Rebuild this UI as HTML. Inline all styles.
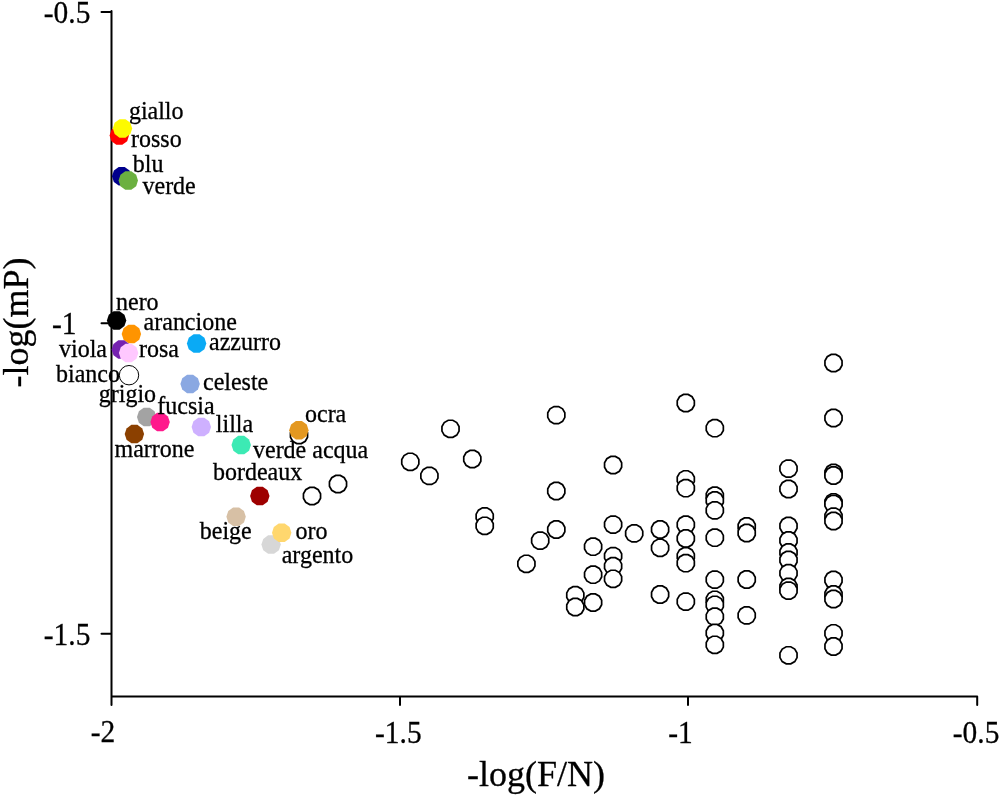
<!DOCTYPE html>
<html><head><meta charset="utf-8"><style>
html,body{margin:0;padding:0;background:#fff;}
svg{display:block;will-change:transform;}
text{font-family:"Liberation Serif",serif;fill:#000;stroke:#000;stroke-width:0.3px;}
.l{font-size:24px;}
.t{font-size:31px;}
.a{font-size:36px;}
</style></head><body>
<svg width="1000" height="796" viewBox="0 0 1000 796">
<path d="M111.5 11V697.5M111.5 696.5H977.2M101.5 12H111.5M101.5 323.3H111.5M101.5 633.8H111.5M111.5 696.5V705M400 696.5V705M688 696.5V705M977.2 696.5V705" stroke="#000" stroke-width="2" fill="none" stroke-linecap="round"/>
<polygon points="842.05,365.29 839.76,369.26 835.79,371.55 831.21,371.55 827.24,369.26 824.95,365.29 824.95,360.71 827.24,356.74 831.21,354.45 835.79,354.45 839.76,356.74 842.05,360.71" fill="#fff" stroke="#000" stroke-width="1.7"/>
<polygon points="694.35,405.29 692.06,409.26 688.09,411.55 683.51,411.55 679.54,409.26 677.25,405.29 677.25,400.71 679.54,396.74 683.51,394.45 688.09,394.45 692.06,396.74 694.35,400.71" fill="#fff" stroke="#000" stroke-width="1.7"/>
<polygon points="564.85,417.39 562.56,421.36 558.59,423.65 554.01,423.65 550.04,421.36 547.75,417.39 547.75,412.81 550.04,408.84 554.01,406.55 558.59,406.55 562.56,408.84 564.85,412.81" fill="#fff" stroke="#000" stroke-width="1.7"/>
<polygon points="842.05,420.29 839.76,424.26 835.79,426.55 831.21,426.55 827.24,424.26 824.95,420.29 824.95,415.71 827.24,411.74 831.21,409.45 835.79,409.45 839.76,411.74 842.05,415.71" fill="#fff" stroke="#000" stroke-width="1.7"/>
<polygon points="723.35,430.49 721.06,434.46 717.09,436.75 712.51,436.75 708.54,434.46 706.25,430.49 706.25,425.91 708.54,421.94 712.51,419.65 717.09,419.65 721.06,421.94 723.35,425.91" fill="#fff" stroke="#000" stroke-width="1.7"/>
<polygon points="459.05,431.09 456.76,435.06 452.79,437.35 448.21,437.35 444.24,435.06 441.95,431.09 441.95,426.51 444.24,422.54 448.21,420.25 452.79,420.25 456.76,422.54 459.05,426.51" fill="#fff" stroke="#000" stroke-width="1.7"/>
<polygon points="307.55,437.29 305.26,441.26 301.29,443.55 296.71,443.55 292.74,441.26 290.45,437.29 290.45,432.71 292.74,428.74 296.71,426.45 301.29,426.45 305.26,428.74 307.55,432.71" fill="#fff" stroke="#000" stroke-width="1.7"/>
<polygon points="480.85,461.29 478.56,465.26 474.59,467.55 470.01,467.55 466.04,465.26 463.75,461.29 463.75,456.71 466.04,452.74 470.01,450.45 474.59,450.45 478.56,452.74 480.85,456.71" fill="#fff" stroke="#000" stroke-width="1.7"/>
<polygon points="418.85,464.09 416.56,468.06 412.59,470.35 408.01,470.35 404.04,468.06 401.75,464.09 401.75,459.51 404.04,455.54 408.01,453.25 412.59,453.25 416.56,455.54 418.85,459.51" fill="#fff" stroke="#000" stroke-width="1.7"/>
<polygon points="621.65,467.29 619.36,471.26 615.39,473.55 610.81,473.55 606.84,471.26 604.55,467.29 604.55,462.71 606.84,458.74 610.81,456.45 615.39,456.45 619.36,458.74 621.65,462.71" fill="#fff" stroke="#000" stroke-width="1.7"/>
<polygon points="797.05,470.89 794.76,474.86 790.79,477.15 786.21,477.15 782.24,474.86 779.95,470.89 779.95,466.31 782.24,462.34 786.21,460.05 790.79,460.05 794.76,462.34 797.05,466.31" fill="#fff" stroke="#000" stroke-width="1.7"/>
<polygon points="842.05,475.29 839.76,479.26 835.79,481.55 831.21,481.55 827.24,479.26 824.95,475.29 824.95,470.71 827.24,466.74 831.21,464.45 835.79,464.45 839.76,466.74 842.05,470.71" fill="#fff" stroke="#000" stroke-width="1.7"/>
<polygon points="842.05,477.79 839.76,481.76 835.79,484.05 831.21,484.05 827.24,481.76 824.95,477.79 824.95,473.21 827.24,469.24 831.21,466.95 835.79,466.95 839.76,469.24 842.05,473.21" fill="#fff" stroke="#000" stroke-width="1.7"/>
<polygon points="437.95,478.19 435.66,482.16 431.69,484.45 427.11,484.45 423.14,482.16 420.85,478.19 420.85,473.61 423.14,469.64 427.11,467.35 431.69,467.35 435.66,469.64 437.95,473.61" fill="#fff" stroke="#000" stroke-width="1.7"/>
<polygon points="694.35,481.59 692.06,485.56 688.09,487.85 683.51,487.85 679.54,485.56 677.25,481.59 677.25,477.01 679.54,473.04 683.51,470.75 688.09,470.75 692.06,473.04 694.35,477.01" fill="#fff" stroke="#000" stroke-width="1.7"/>
<polygon points="346.55,486.29 344.26,490.26 340.29,492.55 335.71,492.55 331.74,490.26 329.45,486.29 329.45,481.71 331.74,477.74 335.71,475.45 340.29,475.45 344.26,477.74 346.55,481.71" fill="#fff" stroke="#000" stroke-width="1.7"/>
<polygon points="694.35,490.49 692.06,494.46 688.09,496.75 683.51,496.75 679.54,494.46 677.25,490.49 677.25,485.91 679.54,481.94 683.51,479.65 688.09,479.65 692.06,481.94 694.35,485.91" fill="#fff" stroke="#000" stroke-width="1.7"/>
<polygon points="797.05,491.29 794.76,495.26 790.79,497.55 786.21,497.55 782.24,495.26 779.95,491.29 779.95,486.71 782.24,482.74 786.21,480.45 790.79,480.45 794.76,482.74 797.05,486.71" fill="#fff" stroke="#000" stroke-width="1.7"/>
<polygon points="564.85,493.29 562.56,497.26 558.59,499.55 554.01,499.55 550.04,497.26 547.75,493.29 547.75,488.71 550.04,484.74 554.01,482.45 558.59,482.45 562.56,484.74 564.85,488.71" fill="#fff" stroke="#000" stroke-width="1.7"/>
<polygon points="723.35,497.99 721.06,501.96 717.09,504.25 712.51,504.25 708.54,501.96 706.25,497.99 706.25,493.41 708.54,489.44 712.51,487.15 717.09,487.15 721.06,489.44 723.35,493.41" fill="#fff" stroke="#000" stroke-width="1.7"/>
<polygon points="320.55,498.29 318.26,502.26 314.29,504.55 309.71,504.55 305.74,502.26 303.45,498.29 303.45,493.71 305.74,489.74 309.71,487.45 314.29,487.45 318.26,489.74 320.55,493.71" fill="#fff" stroke="#000" stroke-width="1.7"/>
<polygon points="723.35,502.79 721.06,506.76 717.09,509.05 712.51,509.05 708.54,506.76 706.25,502.79 706.25,498.21 708.54,494.24 712.51,491.95 717.09,491.95 721.06,494.24 723.35,498.21" fill="#fff" stroke="#000" stroke-width="1.7"/>
<polygon points="842.05,504.59 839.76,508.56 835.79,510.85 831.21,510.85 827.24,508.56 824.95,504.59 824.95,500.01 827.24,496.04 831.21,493.75 835.79,493.75 839.76,496.04 842.05,500.01" fill="#fff" stroke="#000" stroke-width="1.7"/>
<polygon points="842.05,506.29 839.76,510.26 835.79,512.55 831.21,512.55 827.24,510.26 824.95,506.29 824.95,501.71 827.24,497.74 831.21,495.45 835.79,495.45 839.76,497.74 842.05,501.71" fill="#fff" stroke="#000" stroke-width="1.7"/>
<polygon points="723.35,512.69 721.06,516.66 717.09,518.95 712.51,518.95 708.54,516.66 706.25,512.69 706.25,508.11 708.54,504.14 712.51,501.85 717.09,501.85 721.06,504.14 723.35,508.11" fill="#fff" stroke="#000" stroke-width="1.7"/>
<polygon points="493.25,518.69 490.96,522.66 486.99,524.95 482.41,524.95 478.44,522.66 476.15,518.69 476.15,514.11 478.44,510.14 482.41,507.85 486.99,507.85 490.96,510.14 493.25,514.11" fill="#fff" stroke="#000" stroke-width="1.7"/>
<polygon points="842.05,518.89 839.76,522.86 835.79,525.15 831.21,525.15 827.24,522.86 824.95,518.89 824.95,514.31 827.24,510.34 831.21,508.05 835.79,508.05 839.76,510.34 842.05,514.31" fill="#fff" stroke="#000" stroke-width="1.7"/>
<polygon points="842.05,523.29 839.76,527.26 835.79,529.55 831.21,529.55 827.24,527.26 824.95,523.29 824.95,518.71 827.24,514.74 831.21,512.45 835.79,512.45 839.76,514.74 842.05,518.71" fill="#fff" stroke="#000" stroke-width="1.7"/>
<polygon points="621.65,526.89 619.36,530.86 615.39,533.15 610.81,533.15 606.84,530.86 604.55,526.89 604.55,522.31 606.84,518.34 610.81,516.05 615.39,516.05 619.36,518.34 621.65,522.31" fill="#fff" stroke="#000" stroke-width="1.7"/>
<polygon points="694.35,526.99 692.06,530.96 688.09,533.25 683.51,533.25 679.54,530.96 677.25,526.99 677.25,522.41 679.54,518.44 683.51,516.15 688.09,516.15 692.06,518.44 694.35,522.41" fill="#fff" stroke="#000" stroke-width="1.7"/>
<polygon points="493.25,528.09 490.96,532.06 486.99,534.35 482.41,534.35 478.44,532.06 476.15,528.09 476.15,523.51 478.44,519.54 482.41,517.25 486.99,517.25 490.96,519.54 493.25,523.51" fill="#fff" stroke="#000" stroke-width="1.7"/>
<polygon points="797.05,528.29 794.76,532.26 790.79,534.55 786.21,534.55 782.24,532.26 779.95,528.29 779.95,523.71 782.24,519.74 786.21,517.45 790.79,517.45 794.76,519.74 797.05,523.71" fill="#fff" stroke="#000" stroke-width="1.7"/>
<polygon points="755.25,528.79 752.96,532.76 748.99,535.05 744.41,535.05 740.44,532.76 738.15,528.79 738.15,524.21 740.44,520.24 744.41,517.95 748.99,517.95 752.96,520.24 755.25,524.21" fill="#fff" stroke="#000" stroke-width="1.7"/>
<polygon points="564.85,531.79 562.56,535.76 558.59,538.05 554.01,538.05 550.04,535.76 547.75,531.79 547.75,527.21 550.04,523.24 554.01,520.95 558.59,520.95 562.56,523.24 564.85,527.21" fill="#fff" stroke="#000" stroke-width="1.7"/>
<polygon points="668.65,531.79 666.36,535.76 662.39,538.05 657.81,538.05 653.84,535.76 651.55,531.79 651.55,527.21 653.84,523.24 657.81,520.95 662.39,520.95 666.36,523.24 668.65,527.21" fill="#fff" stroke="#000" stroke-width="1.7"/>
<polygon points="755.25,535.29 752.96,539.26 748.99,541.55 744.41,541.55 740.44,539.26 738.15,535.29 738.15,530.71 740.44,526.74 744.41,524.45 748.99,524.45 752.96,526.74 755.25,530.71" fill="#fff" stroke="#000" stroke-width="1.7"/>
<polygon points="642.75,535.69 640.46,539.66 636.49,541.95 631.91,541.95 627.94,539.66 625.65,535.69 625.65,531.11 627.94,527.14 631.91,524.85 636.49,524.85 640.46,527.14 642.75,531.11" fill="#fff" stroke="#000" stroke-width="1.7"/>
<polygon points="723.35,539.99 721.06,543.96 717.09,546.25 712.51,546.25 708.54,543.96 706.25,539.99 706.25,535.41 708.54,531.44 712.51,529.15 717.09,529.15 721.06,531.44 723.35,535.41" fill="#fff" stroke="#000" stroke-width="1.7"/>
<polygon points="694.35,540.79 692.06,544.76 688.09,547.05 683.51,547.05 679.54,544.76 677.25,540.79 677.25,536.21 679.54,532.24 683.51,529.95 688.09,529.95 692.06,532.24 694.35,536.21" fill="#fff" stroke="#000" stroke-width="1.7"/>
<polygon points="797.05,542.79 794.76,546.76 790.79,549.05 786.21,549.05 782.24,546.76 779.95,542.79 779.95,538.21 782.24,534.24 786.21,531.95 790.79,531.95 794.76,534.24 797.05,538.21" fill="#fff" stroke="#000" stroke-width="1.7"/>
<polygon points="548.75,542.89 546.46,546.86 542.49,549.15 537.91,549.15 533.94,546.86 531.65,542.89 531.65,538.31 533.94,534.34 537.91,532.05 542.49,532.05 546.46,534.34 548.75,538.31" fill="#fff" stroke="#000" stroke-width="1.7"/>
<polygon points="601.65,548.99 599.36,552.96 595.39,555.25 590.81,555.25 586.84,552.96 584.55,548.99 584.55,544.41 586.84,540.44 590.81,538.15 595.39,538.15 599.36,540.44 601.65,544.41" fill="#fff" stroke="#000" stroke-width="1.7"/>
<polygon points="668.65,550.09 666.36,554.06 662.39,556.35 657.81,556.35 653.84,554.06 651.55,550.09 651.55,545.51 653.84,541.54 657.81,539.25 662.39,539.25 666.36,541.54 668.65,545.51" fill="#fff" stroke="#000" stroke-width="1.7"/>
<polygon points="797.05,554.79 794.76,558.76 790.79,561.05 786.21,561.05 782.24,558.76 779.95,554.79 779.95,550.21 782.24,546.24 786.21,543.95 790.79,543.95 794.76,546.24 797.05,550.21" fill="#fff" stroke="#000" stroke-width="1.7"/>
<polygon points="621.65,558.39 619.36,562.36 615.39,564.65 610.81,564.65 606.84,562.36 604.55,558.39 604.55,553.81 606.84,549.84 610.81,547.55 615.39,547.55 619.36,549.84 621.65,553.81" fill="#fff" stroke="#000" stroke-width="1.7"/>
<polygon points="694.35,558.49 692.06,562.46 688.09,564.75 683.51,564.75 679.54,562.46 677.25,558.49 677.25,553.91 679.54,549.94 683.51,547.65 688.09,547.65 692.06,549.94 694.35,553.91" fill="#fff" stroke="#000" stroke-width="1.7"/>
<polygon points="797.05,562.29 794.76,566.26 790.79,568.55 786.21,568.55 782.24,566.26 779.95,562.29 779.95,557.71 782.24,553.74 786.21,551.45 790.79,551.45 794.76,553.74 797.05,557.71" fill="#fff" stroke="#000" stroke-width="1.7"/>
<polygon points="694.35,565.49 692.06,569.46 688.09,571.75 683.51,571.75 679.54,569.46 677.25,565.49 677.25,560.91 679.54,556.94 683.51,554.65 688.09,554.65 692.06,556.94 694.35,560.91" fill="#fff" stroke="#000" stroke-width="1.7"/>
<polygon points="534.95,566.09 532.66,570.06 528.69,572.35 524.11,572.35 520.14,570.06 517.85,566.09 517.85,561.51 520.14,557.54 524.11,555.25 528.69,555.25 532.66,557.54 534.95,561.51" fill="#fff" stroke="#000" stroke-width="1.7"/>
<polygon points="621.65,568.49 619.36,572.46 615.39,574.75 610.81,574.75 606.84,572.46 604.55,568.49 604.55,563.91 606.84,559.94 610.81,557.65 615.39,557.65 619.36,559.94 621.65,563.91" fill="#fff" stroke="#000" stroke-width="1.7"/>
<polygon points="797.05,575.49 794.76,579.46 790.79,581.75 786.21,581.75 782.24,579.46 779.95,575.49 779.95,570.91 782.24,566.94 786.21,564.65 790.79,564.65 794.76,566.94 797.05,570.91" fill="#fff" stroke="#000" stroke-width="1.7"/>
<polygon points="601.65,576.99 599.36,580.96 595.39,583.25 590.81,583.25 586.84,580.96 584.55,576.99 584.55,572.41 586.84,568.44 590.81,566.15 595.39,566.15 599.36,568.44 601.65,572.41" fill="#fff" stroke="#000" stroke-width="1.7"/>
<polygon points="621.65,581.09 619.36,585.06 615.39,587.35 610.81,587.35 606.84,585.06 604.55,581.09 604.55,576.51 606.84,572.54 610.81,570.25 615.39,570.25 619.36,572.54 621.65,576.51" fill="#fff" stroke="#000" stroke-width="1.7"/>
<polygon points="755.25,581.79 752.96,585.76 748.99,588.05 744.41,588.05 740.44,585.76 738.15,581.79 738.15,577.21 740.44,573.24 744.41,570.95 748.99,570.95 752.96,573.24 755.25,577.21" fill="#fff" stroke="#000" stroke-width="1.7"/>
<polygon points="723.35,581.89 721.06,585.86 717.09,588.15 712.51,588.15 708.54,585.86 706.25,581.89 706.25,577.31 708.54,573.34 712.51,571.05 717.09,571.05 721.06,573.34 723.35,577.31" fill="#fff" stroke="#000" stroke-width="1.7"/>
<polygon points="842.05,582.29 839.76,586.26 835.79,588.55 831.21,588.55 827.24,586.26 824.95,582.29 824.95,577.71 827.24,573.74 831.21,571.45 835.79,571.45 839.76,573.74 842.05,577.71" fill="#fff" stroke="#000" stroke-width="1.7"/>
<polygon points="797.05,589.29 794.76,593.26 790.79,595.55 786.21,595.55 782.24,593.26 779.95,589.29 779.95,584.71 782.24,580.74 786.21,578.45 790.79,578.45 794.76,580.74 797.05,584.71" fill="#fff" stroke="#000" stroke-width="1.7"/>
<polygon points="797.05,592.89 794.76,596.86 790.79,599.15 786.21,599.15 782.24,596.86 779.95,592.89 779.95,588.31 782.24,584.34 786.21,582.05 790.79,582.05 794.76,584.34 797.05,588.31" fill="#fff" stroke="#000" stroke-width="1.7"/>
<polygon points="668.65,596.79 666.36,600.76 662.39,603.05 657.81,603.05 653.84,600.76 651.55,596.79 651.55,592.21 653.84,588.24 657.81,585.95 662.39,585.95 666.36,588.24 668.65,592.21" fill="#fff" stroke="#000" stroke-width="1.7"/>
<polygon points="842.05,596.79 839.76,600.76 835.79,603.05 831.21,603.05 827.24,600.76 824.95,596.79 824.95,592.21 827.24,588.24 831.21,585.95 835.79,585.95 839.76,588.24 842.05,592.21" fill="#fff" stroke="#000" stroke-width="1.7"/>
<polygon points="583.85,597.49 581.56,601.46 577.59,603.75 573.01,603.75 569.04,601.46 566.75,597.49 566.75,592.91 569.04,588.94 573.01,586.65 577.59,586.65 581.56,588.94 583.85,592.91" fill="#fff" stroke="#000" stroke-width="1.7"/>
<polygon points="842.05,601.29 839.76,605.26 835.79,607.55 831.21,607.55 827.24,605.26 824.95,601.29 824.95,596.71 827.24,592.74 831.21,590.45 835.79,590.45 839.76,592.74 842.05,596.71" fill="#fff" stroke="#000" stroke-width="1.7"/>
<polygon points="723.35,602.09 721.06,606.06 717.09,608.35 712.51,608.35 708.54,606.06 706.25,602.09 706.25,597.51 708.54,593.54 712.51,591.25 717.09,591.25 721.06,593.54 723.35,597.51" fill="#fff" stroke="#000" stroke-width="1.7"/>
<polygon points="694.35,603.89 692.06,607.86 688.09,610.15 683.51,610.15 679.54,607.86 677.25,603.89 677.25,599.31 679.54,595.34 683.51,593.05 688.09,593.05 692.06,595.34 694.35,599.31" fill="#fff" stroke="#000" stroke-width="1.7"/>
<polygon points="601.65,604.79 599.36,608.76 595.39,611.05 590.81,611.05 586.84,608.76 584.55,604.79 584.55,600.21 586.84,596.24 590.81,593.95 595.39,593.95 599.36,596.24 601.65,600.21" fill="#fff" stroke="#000" stroke-width="1.7"/>
<polygon points="723.35,607.09 721.06,611.06 717.09,613.35 712.51,613.35 708.54,611.06 706.25,607.09 706.25,602.51 708.54,598.54 712.51,596.25 717.09,596.25 721.06,598.54 723.35,602.51" fill="#fff" stroke="#000" stroke-width="1.7"/>
<polygon points="583.85,609.29 581.56,613.26 577.59,615.55 573.01,615.55 569.04,613.26 566.75,609.29 566.75,604.71 569.04,600.74 573.01,598.45 577.59,598.45 581.56,600.74 583.85,604.71" fill="#fff" stroke="#000" stroke-width="1.7"/>
<polygon points="755.25,617.69 752.96,621.66 748.99,623.95 744.41,623.95 740.44,621.66 738.15,617.69 738.15,613.11 740.44,609.14 744.41,606.85 748.99,606.85 752.96,609.14 755.25,613.11" fill="#fff" stroke="#000" stroke-width="1.7"/>
<polygon points="723.35,618.99 721.06,622.96 717.09,625.25 712.51,625.25 708.54,622.96 706.25,618.99 706.25,614.41 708.54,610.44 712.51,608.15 717.09,608.15 721.06,610.44 723.35,614.41" fill="#fff" stroke="#000" stroke-width="1.7"/>
<polygon points="723.35,635.29 721.06,639.26 717.09,641.55 712.51,641.55 708.54,639.26 706.25,635.29 706.25,630.71 708.54,626.74 712.51,624.45 717.09,624.45 721.06,626.74 723.35,630.71" fill="#fff" stroke="#000" stroke-width="1.7"/>
<polygon points="842.05,635.59 839.76,639.56 835.79,641.85 831.21,641.85 827.24,639.56 824.95,635.59 824.95,631.01 827.24,627.04 831.21,624.75 835.79,624.75 839.76,627.04 842.05,631.01" fill="#fff" stroke="#000" stroke-width="1.7"/>
<polygon points="723.35,647.09 721.06,651.06 717.09,653.35 712.51,653.35 708.54,651.06 706.25,647.09 706.25,642.51 708.54,638.54 712.51,636.25 717.09,636.25 721.06,638.54 723.35,642.51" fill="#fff" stroke="#000" stroke-width="1.7"/>
<polygon points="842.05,648.79 839.76,652.76 835.79,655.05 831.21,655.05 827.24,652.76 824.95,648.79 824.95,644.21 827.24,640.24 831.21,637.95 835.79,637.95 839.76,640.24 842.05,644.21" fill="#fff" stroke="#000" stroke-width="1.7"/>
<polygon points="797.05,657.59 794.76,661.56 790.79,663.85 786.21,663.85 782.24,661.56 779.95,657.59 779.95,653.01 782.24,649.04 786.21,646.75 790.79,646.75 794.76,649.04 797.05,653.01" fill="#fff" stroke="#000" stroke-width="1.7"/>
<polygon points="129.00,135.50 127.15,141.20 122.30,144.73 116.30,144.73 111.45,141.20 109.60,135.50 111.45,129.80 116.30,126.27 122.30,126.27 127.15,129.80" fill="#ff0000"/>
<polygon points="132.20,128.40 130.35,134.10 125.50,137.63 119.50,137.63 114.65,134.10 112.80,128.40 114.65,122.70 119.50,119.17 125.50,119.17 130.35,122.70" fill="#fdfa00"/>
<polygon points="131.40,176.30 129.55,182.00 124.70,185.53 118.70,185.53 113.85,182.00 112.00,176.30 113.85,170.60 118.70,167.07 124.70,167.07 129.55,170.60" fill="#00008c"/>
<polygon points="138.00,180.50 136.15,186.20 131.30,189.73 125.30,189.73 120.45,186.20 118.60,180.50 120.45,174.80 125.30,171.27 131.30,171.27 136.15,174.80" fill="#6bb040"/>
<polygon points="126.30,320.40 124.45,326.10 119.60,329.63 113.60,329.63 108.75,326.10 106.90,320.40 108.75,314.70 113.60,311.17 119.60,311.17 124.45,314.70" fill="#000000"/>
<polygon points="141.10,334.00 139.25,339.70 134.40,343.23 128.40,343.23 123.55,339.70 121.70,334.00 123.55,328.30 128.40,324.77 134.40,324.77 139.25,328.30" fill="#ff9400"/>
<polygon points="131.00,349.60 129.15,355.30 124.30,358.83 118.30,358.83 113.45,355.30 111.60,349.60 113.45,343.90 118.30,340.37 124.30,340.37 129.15,343.90" fill="#7522b0"/>
<polygon points="138.30,353.00 136.45,358.70 131.60,362.23 125.60,362.23 120.75,358.70 118.90,353.00 120.75,347.30 125.60,343.77 131.60,343.77 136.45,347.30" fill="#ffc8ff"/>
<circle cx="129" cy="375.2" r="9.7" fill="#fff" stroke="#000" stroke-width="1"/>
<polygon points="206.30,343.50 204.45,349.20 199.60,352.73 193.60,352.73 188.75,349.20 186.90,343.50 188.75,337.80 193.60,334.27 199.60,334.27 204.45,337.80" fill="#0aaaf5"/>
<polygon points="199.80,383.90 197.95,389.60 193.10,393.13 187.10,393.13 182.25,389.60 180.40,383.90 182.25,378.20 187.10,374.67 193.10,374.67 197.95,378.20" fill="#8aa8e2"/>
<polygon points="156.40,417.00 154.55,422.70 149.70,426.23 143.70,426.23 138.85,422.70 137.00,417.00 138.85,411.30 143.70,407.77 149.70,407.77 154.55,411.30" fill="#a3a3a3"/>
<polygon points="169.80,422.10 167.95,427.80 163.10,431.33 157.10,431.33 152.25,427.80 150.40,422.10 152.25,416.40 157.10,412.87 163.10,412.87 167.95,416.40" fill="#ff198c"/>
<polygon points="144.10,434.10 142.25,439.80 137.40,443.33 131.40,443.33 126.55,439.80 124.70,434.10 126.55,428.40 131.40,424.87 137.40,424.87 142.25,428.40" fill="#8b4000"/>
<polygon points="211.00,427.00 209.15,432.70 204.30,436.23 198.30,436.23 193.45,432.70 191.60,427.00 193.45,421.30 198.30,417.77 204.30,417.77 209.15,421.30" fill="#ceb0ff"/>
<polygon points="250.90,445.10 249.05,450.80 244.20,454.33 238.20,454.33 233.35,450.80 231.50,445.10 233.35,439.40 238.20,435.87 244.20,435.87 249.05,439.40" fill="#3ceab4"/>
<polygon points="308.60,430.20 306.75,435.90 301.90,439.43 295.90,439.43 291.05,435.90 289.20,430.20 291.05,424.50 295.90,420.97 301.90,420.97 306.75,424.50" fill="#e49820"/>
<polygon points="269.50,496.00 267.65,501.70 262.80,505.23 256.80,505.23 251.95,501.70 250.10,496.00 251.95,490.30 256.80,486.77 262.80,486.77 267.65,490.30" fill="#9e0000"/>
<polygon points="245.80,516.70 243.95,522.40 239.10,525.93 233.10,525.93 228.25,522.40 226.40,516.70 228.25,511.00 233.10,507.47 239.10,507.47 243.95,511.00" fill="#d7c0a5"/>
<polygon points="280.80,544.60 278.95,550.30 274.10,553.83 268.10,553.83 263.25,550.30 261.40,544.60 263.25,538.90 268.10,535.37 274.10,535.37 278.95,538.90" fill="#d7d7d7"/>
<polygon points="291.40,532.80 289.55,538.50 284.70,542.03 278.70,542.03 273.85,538.50 272.00,532.80 273.85,527.10 278.70,523.57 284.70,523.57 289.55,527.10" fill="#ffd76e"/>
<text transform="translate(128.9 118.8) scale(1 1.04)" class="l">giallo</text>
<text transform="translate(131.0 147.3) scale(1 1.04)" class="l">rosso</text>
<text transform="translate(132.8 172.2) scale(1 1.04)" class="l">blu</text>
<text transform="translate(142.5 193.6) scale(1 1.04)" class="l">verde</text>
<text transform="translate(116.0 310.1) scale(1 1.04)" class="l">nero</text>
<text transform="translate(143.6 329.7) scale(1 1.04)" class="l">arancione</text>
<text transform="translate(59.0 356.7) scale(1 1.04)" class="l">viola</text>
<text transform="translate(139.0 357.3) scale(1 1.04)" class="l">rosa</text>
<text transform="translate(56.0 381.7) scale(1 1.04)" class="l">bianco</text>
<text transform="translate(209.0 349.7) scale(1 1.04)" class="l">azzurro</text>
<text transform="translate(203.0 389.7) scale(1 1.04)" class="l">celeste</text>
<text transform="translate(98.8 401.7) scale(1 1.04)" class="l">grigio</text>
<text transform="translate(157.3 414.0) scale(1 1.04)" class="l">fucsia</text>
<text transform="translate(114.5 456.5) scale(1 1.04)" class="l">marrone</text>
<text transform="translate(215.8 431.7) scale(1 1.04)" class="l">lilla</text>
<text transform="translate(253.0 457.7) scale(1 1.04)" class="l">verde acqua</text>
<text transform="translate(305.0 421.7) scale(1 1.04)" class="l">ocra</text>
<text transform="translate(213.0 479.7) scale(1 1.04)" class="l">bordeaux</text>
<text transform="translate(199.8 539.4) scale(1 1.04)" class="l">beige</text>
<text transform="translate(295.6 538.5) scale(1 1.04)" class="l">oro</text>
<text transform="translate(281.7 562.8) scale(1 1.04)" class="l">argento</text>
<text transform="translate(43.8 23.2) scale(0.95 1)" class="t">-0.5</text>
<text transform="translate(51.9 333.6) scale(0.95 1)" class="t">-1</text>
<text transform="translate(43.8 645.0) scale(0.95 1)" class="t">-1.5</text>
<text transform="translate(90.8 742.3) scale(0.95 1)" class="t">-2</text>
<text transform="translate(375 742.6) scale(0.95 1)" class="t">-1.5</text>
<text transform="translate(668.3 742.5) scale(0.95 1)" class="t">-1</text>
<text transform="translate(952.8 742.9) scale(0.95 1)" class="t">-0.5</text>
<text x="467" y="786" class="a">-log(F/N)</text>
<text transform="translate(28 322.4) rotate(-90)" text-anchor="middle" class="a">-log(mP)</text>
</svg>
</body></html>
